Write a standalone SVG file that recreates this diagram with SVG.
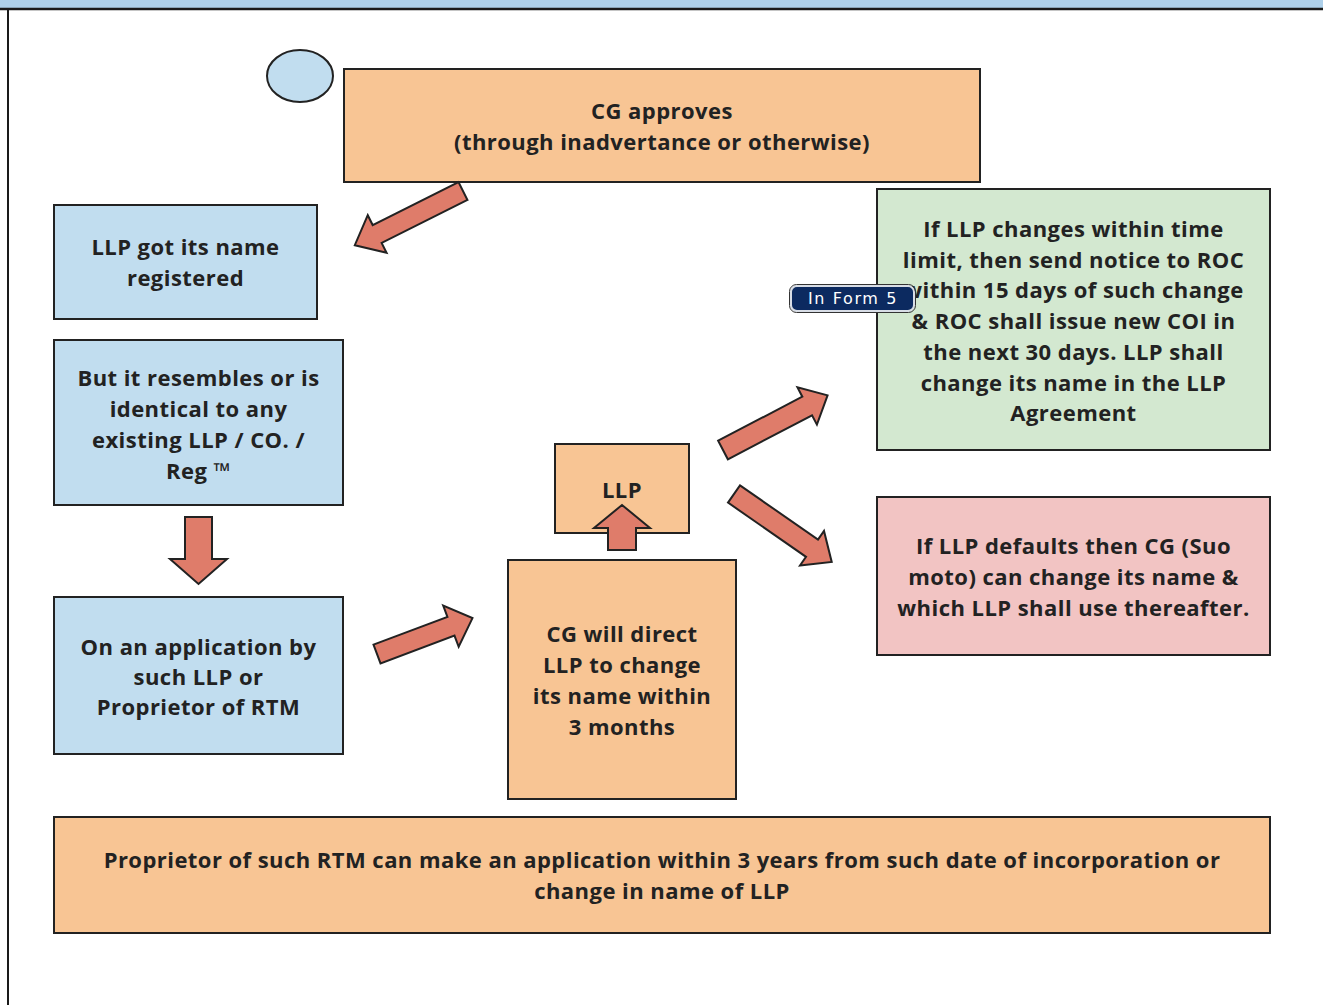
<svg xmlns="http://www.w3.org/2000/svg" width="1323" height="1005" viewBox="0 0 1323 1005">
<defs>
<style>
.blue{fill:#c1ddef;stroke:#222;stroke-width:2}
.peach{fill:#f8c594;stroke:#222;stroke-width:2}
.green{fill:#d3e8d0;stroke:#222;stroke-width:2}
.pink{fill:#f2c4c3;stroke:#222;stroke-width:2}
.arr{fill:#df7c6a;stroke:#222;stroke-width:2;stroke-linejoin:miter}
.t{font-family:"Open Sans","Liberation Sans",sans-serif;font-weight:bold;font-size:22px;letter-spacing:0.45px;fill:#222;text-anchor:middle}
.badge{font-family:"DejaVu Sans","Liberation Sans",sans-serif;font-size:16px;letter-spacing:1.6px;fill:#fff;text-anchor:middle}
</style>
</defs>
<rect x="0" y="0" width="1323" height="1005" fill="#fff"/>
<rect x="0" y="0" width="1323" height="9" fill="#aed0ea"/>
<line x1="0" y1="9" x2="1323" y2="9" stroke="#1a1a1a" stroke-width="2.5"/>
<line x1="8" y1="9" x2="8" y2="1005" stroke="#1a1a1a" stroke-width="2"/>

<g id="circle"><ellipse cx="300" cy="76" rx="33" ry="26" class="blue"/></g>

<g id="cg-approves">
<rect x="344" y="69" width="636" height="113" class="peach"/>
<text class="t" x="662" y="119">CG approves</text>
<text class="t" x="662" y="150">(through inadvertance or otherwise)</text>
</g>

<g id="llp-registered">
<rect x="54" y="205" width="263" height="114" class="blue"/>
<text class="t" x="185.5" y="255">LLP got its name</text>
<text class="t" x="185.5" y="286">registered</text>
</g>

<g id="resembles">
<rect x="54" y="340" width="289" height="165" class="blue"/>
<text class="t" x="198.5" y="386">But it resembles or is</text>
<text class="t" x="198.5" y="417">identical to any</text>
<text class="t" x="198.5" y="448">existing LLP / CO. /</text>
<text class="t" x="198.5" y="479">Reg ™</text>
</g>

<g id="application">
<rect x="54" y="597" width="289" height="157" class="blue"/>
<text class="t" x="198.5" y="655">On an application by</text>
<text class="t" x="198.5" y="685">such LLP or</text>
<text class="t" x="198.5" y="715">Proprietor of RTM</text>
</g>

<g id="cg-direct">
<rect x="508" y="560" width="228" height="239" class="peach"/>
<text class="t" x="622" y="642">CG will direct</text>
<text class="t" x="622" y="673">LLP to change</text>
<text class="t" x="622" y="704">its name within</text>
<text class="t" x="622" y="735">3 months</text>
</g>

<g id="llp">
<rect x="555" y="444" width="134" height="89" class="peach"/>
<text class="t" x="622" y="498">LLP</text>
</g>

<g id="changes">
<rect x="877" y="189" width="393" height="261" class="green"/>
<text class="t" x="1073.5" y="237">If LLP changes within time</text>
<text class="t" x="1073.5" y="268">limit, then send notice to ROC</text>
<text class="t" x="1073.5" y="298">within 15 days of such change</text>
<text class="t" x="1073.5" y="329">&amp; ROC shall issue new COI in</text>
<text class="t" x="1073.5" y="360">the next 30 days. LLP shall</text>
<text class="t" x="1073.5" y="391">change its name in the LLP</text>
<text class="t" x="1073.5" y="421">Agreement</text>
</g>

<g id="form5">
<rect x="791" y="286" width="123" height="25" rx="6" fill="#0c2a60" stroke="#d8dde6" stroke-width="2"/>
<rect x="789.5" y="284.5" width="126" height="28" rx="7" fill="none" stroke="#333" stroke-width="1"/>
<text class="badge" x="853" y="304">In Form 5</text>
</g>

<g id="defaults">
<rect x="877" y="497" width="393" height="158" class="pink"/>
<text class="t" x="1073.5" y="554">If LLP defaults then CG (Suo</text>
<text class="t" x="1073.5" y="585">moto) can change its name &amp;</text>
<text class="t" x="1073.5" y="616">which LLP shall use thereafter.</text>
</g>

<g id="proprietor">
<rect x="54" y="817" width="1216" height="116" class="peach"/>
<text class="t" x="662" y="868">Proprietor of such RTM can make an application within 3 years from such date of incorporation or</text>
<text class="t" x="662" y="899">change in name of LLP</text>
</g>

<g id="connectors">
<polygon class="arr" points="0,-10 96,-10 96,-21 121,0 96,21 96,10 0,10" transform="translate(463,191) rotate(153.4)"/>
<polygon class="arr" points="0,-13.5 42,-13.5 42,-28.5 67,0 42,28.5 42,13.5 0,13.5" transform="translate(198.5,517) rotate(90)"/>
<polygon class="arr" points="0,-10 79,-10 79,-22 102,0 79,22 79,10 0,10" transform="translate(377,654) rotate(-20.6)"/>
<polygon class="arr" points="0,-14 22,-14 22,-28 45,0 22,28 22,14 0,14" transform="translate(622,550) rotate(-90)"/>
<polygon class="arr" points="0,-10.5 95,-10.5 95,-21 118,0 95,21 95,10.5 0,10.5" transform="translate(723,450) rotate(-27.6)"/>
<polygon class="arr" points="0,-10.5 95,-10.5 95,-21 119,0 95,21 95,10.5 0,10.5" transform="translate(734,494) rotate(34.8)"/>
</g>
</svg>
